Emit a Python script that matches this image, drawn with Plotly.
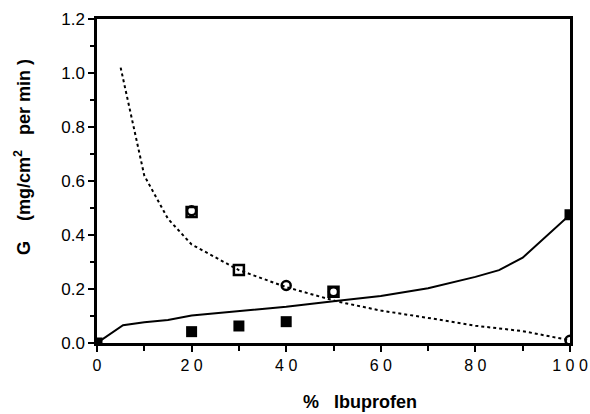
import plotly.graph_objects as go

# Curves
dotted_x = [5, 10, 15, 20, 30, 40, 51, 60, 70, 80, 90, 100]
dotted_y = [1.02, 0.62, 0.46, 0.365, 0.27, 0.207, 0.153, 0.12, 0.093, 0.064, 0.044, 0.01]
solid_x = [0, 5.5, 10, 15, 20, 30, 40, 50, 60, 70, 80, 85, 90, 100]
solid_y = [0.0, 0.066, 0.077, 0.085, 0.102, 0.118, 0.134, 0.155, 0.174, 0.203, 0.245, 0.27, 0.316, 0.475]

# Data points
open_sq_x = [20, 30, 50]
open_sq_y = [0.485, 0.27, 0.19]
open_circ_x = [20, 40, 50, 100]
open_circ_y = [0.49, 0.213, 0.19, 0.01]
filled_sq_x = [0, 20, 30, 40, 100]
filled_sq_y = [0.0, 0.042, 0.063, 0.079, 0.475]

x_ticks = [0, 20, 40, 60, 80, 100]
x_tick_text = ["0", "2 0", "4 0", "6 0", "8 0", "1 0 0"]
y_ticks = [0.0, 0.2, 0.4, 0.6, 0.8, 1.0, 1.2]

fig = go.Figure()
fig.add_trace(go.Scatter(x=dotted_x, y=dotted_y, mode="lines",
                         line=dict(color="black", width=2, dash="dot")))
fig.add_trace(go.Scatter(x=solid_x, y=solid_y, mode="lines",
                         line=dict(color="black", width=2)))
fig.add_trace(go.Scatter(x=open_sq_x, y=open_sq_y, mode="markers",
                         marker=dict(symbol="square-open", size=10, color="black", line=dict(width=2.5))))
fig.add_trace(go.Scatter(x=open_circ_x, y=open_circ_y, mode="markers",
                         marker=dict(symbol="circle-open", size=9, color="black", line=dict(width=2.5))))
fig.add_trace(go.Scatter(x=filled_sq_x, y=filled_sq_y, mode="markers",
                         marker=dict(symbol="square", size=11, color="black")))

font = "Liberation Sans, Arial, sans-serif"
fig.update_layout(
    width=590, height=414,
    margin=dict(l=97, r=20, t=19, b=71),
    plot_bgcolor="white", paper_bgcolor="white",
    showlegend=False,
    font=dict(family=font, color="black", size=16),
)
fig.update_xaxes(
    range=[0, 100], tickvals=x_ticks, ticktext=x_tick_text, automargin=False,
    showgrid=False, zeroline=False, showline=True, linecolor="black", linewidth=2.5,
    mirror=True, ticks="outside", ticklen=6, tickwidth=2, tickcolor="black",
    minor=dict(dtick=10, ticks="outside", ticklen=5, tickwidth=2, tickcolor="black"),
    tickfont=dict(size=16),
)
fig.update_yaxes(
    range=[0, 1.2], tickvals=y_ticks, ticktext=[f"{v:.1f}" for v in y_ticks], automargin=False,
    showgrid=False, zeroline=False, showline=True, linecolor="black", linewidth=2.5,
    mirror=True, ticks="outside", ticklen=6, tickwidth=2, tickcolor="black",
    minor=dict(dtick=0.1, ticks="outside", ticklen=4, tickwidth=2, tickcolor="black"),
    tickfont=dict(size=17),
)
fig.add_annotation(text="<b>%&nbsp;&nbsp; Ibuprofen</b>", xref="paper", yref="paper",
                   x=(360 - 97) / 473, y=(343 - 402) / 324, showarrow=False,
                   xanchor="center", yanchor="middle", font=dict(size=18))
fig.add_annotation(text="<b>G&nbsp;&nbsp;&nbsp; (mg/cm<sup>2</sup>&nbsp;&nbsp; per min )</b>",
                   xref="paper", yref="paper",
                   x=(22 - 97) / 473, y=(343 - 157) / 324, showarrow=False, textangle=-90,
                   xanchor="center", yanchor="middle", font=dict(size=18))

fig.write_html("out.html", config={"displayModeBar": False},
               post_script="document.body.style.margin='0';document.body.style.overflow='hidden';")
